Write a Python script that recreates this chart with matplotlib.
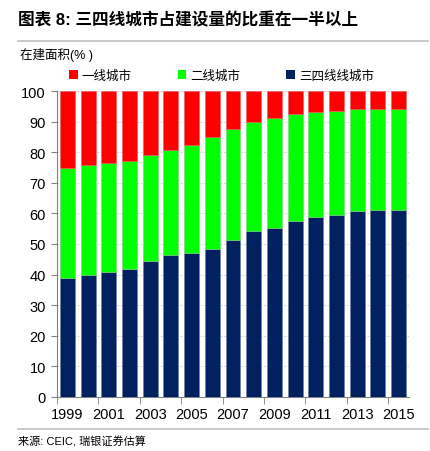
import numpy as np
import matplotlib
matplotlib.use("Agg")
import matplotlib.pyplot as plt
from matplotlib.patches import Patch
from matplotlib.lines import Line2D

plt.rcParams['font.family'] = ['Liberation Sans', 'Noto Sans CJK SC', 'DejaVu Sans']

years = list(range(1999, 2016))
# top of the navy segment and bottom of the red segment
tier3 = [38.9, 39.9, 40.9, 41.9, 44.6, 46.4, 47.2, 48.4, 51.3, 54.3, 55.3, 57.4, 58.7, 59.6, 60.8, 61.0, 61.1]
red_bottom = [75.0, 75.9, 76.6, 77.1, 79.2, 80.7, 82.5, 85.0, 87.5, 89.8, 91.2, 92.5, 93.0, 93.6, 94.1, 94.2, 94.2]
tier2 = [round(r - t, 1) for r, t in zip(red_bottom, tier3)]
tier1 = [round(100 - r, 1) for r in red_bottom]

labels = ['一线城市', '二线城市', '三四线线城市']
colors = ['#FF0000', '#00FF00', '#002060']

fig = plt.figure(figsize=(4.30, 4.52), dpi=100)
ax = fig.add_axes([57 / 430, 1 - 398 / 452, 352 / 430, 306 / 452])

x = np.arange(len(years))
w = 0.72
ax.bar(x, tier3, w, color=colors[2], edgecolor='#6a7fa0', linewidth=0.4, zorder=3)
ax.bar(x, tier2, w, bottom=tier3, color=colors[1], edgecolor='#7fd07f', linewidth=0.4, zorder=3)
ax.bar(x, tier1, w, bottom=red_bottom, color=colors[0], edgecolor='#e06060', linewidth=0.4, zorder=3)

ax.set_xlim(-0.5, len(years) - 0.5)
ax.set_ylim(0, 100)
ax.set_yticks(range(0, 101, 10))
ax.yaxis.grid(True, linestyle=(0, (2, 2)), color='#c8c8c8', linewidth=0.6, zorder=0)

ax.set_xticks(x[::2])
ax.set_xticklabels([str(y) for y in years[::2]])
ax.set_xticks(np.arange(-0.5, len(years) - 0.5, 2), minor=True)
ax.tick_params(axis='x', which='major', length=0, pad=7, labelsize=10.5)
ax.tick_params(axis='x', which='minor', length=5, direction='out', color='#808080')
ax.tick_params(axis='y', length=4, direction='out', color='#808080', labelsize=10.5, pad=4)

for s in ['top', 'right']:
    ax.spines[s].set_visible(False)
for s in ['left', 'bottom']:
    ax.spines[s].set_color('#808080')
    ax.spines[s].set_linewidth(0.8)

handles = [Patch(facecolor=c, edgecolor='none') for c in colors]
fig.legend(handles, labels, loc='center', bbox_to_anchor=(0.515, 1 - 77 / 452), ncol=3,
           frameon=False, fontsize=9, handlelength=0.7, handleheight=0.7,
           handletextpad=0.3, columnspacing=3.7)

fig.text(18 / 430, 1 - 20 / 452, '图表 8: 三四线城市占建设量的比重在一半以上',
         fontsize=12, fontweight='bold', va='center', ha='left')
fig.add_artist(Line2D([18 / 430, 428 / 430], [1 - 42 / 452, 1 - 42 / 452],
                      color='#c0c0c0', linewidth=1.2))
fig.text(20 / 430, 1 - 55 / 452, '在建面积(% )', fontsize=9, va='center', ha='left')
fig.add_artist(Line2D([18 / 430, 428 / 430], [1 - 430 / 452, 1 - 430 / 452],
                      color='#c0c0c0', linewidth=1.2))
fig.text(18 / 430, 1 - 442 / 452, '来源: CEIC, 瑞银证券估算', fontsize=8, va='center', ha='left')

fig.savefig('out.png', dpi=100)
